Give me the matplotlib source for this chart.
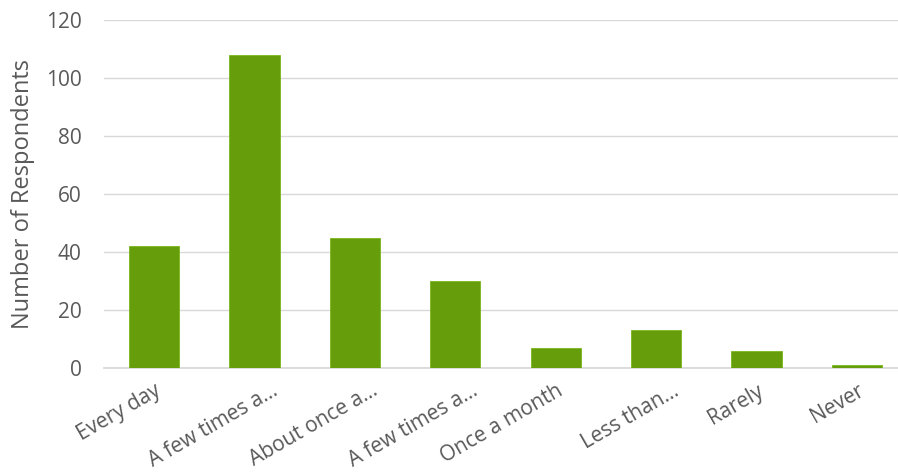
import matplotlib.pyplot as plt
import matplotlib.transforms as mtransforms

plt.rcParams['font.family'] = ['Open Sans', 'DejaVu Sans']

# how often respondents do it
categories = ['Every day', 'A few times a…', 'About once a…', 'A few times a…',
              'Once a month', 'Less than…', 'Rarely', 'Never']
respondents = [42, 108, 45, 30, 7, 13, 6, 1]
y_ticks = [0, 20, 40, 60, 80, 100, 120]

bar_color = '#669E0B'
text_color = '#595959'
grid_color = '#D9D9D9'

fig = plt.figure(figsize=(8.98, 4.72), dpi=100)
ax = fig.add_axes([104 / 898, (472 - 368) / 472, 794 / 898, 348 / 472])

x = range(len(categories))
ax.bar(x, respondents, width=0.5, color=bar_color, edgecolor='#7AB51D',
       linewidth=0.6, zorder=3)

ax.set_ylim(0, 120)
ax.set_yticks(y_ticks)
ax.set_xlim(-0.5, 7.41)
ax.set_xticks(list(x))
ax.set_xticklabels(categories, rotation=30, ha='right', rotation_mode='anchor',
                   fontsize=15, color=text_color)
ax.tick_params(axis='y', labelsize=15, labelcolor=text_color, length=0, pad=16)
ax.tick_params(axis='x', length=0, pad=9)

# truncated labels sit a little further right, like Excel lays them out
for lbl in ax.get_xticklabels():
    if lbl.get_text().endswith('…'):
        shift = mtransforms.ScaledTranslation(16 / 100, 0, fig.dpi_scale_trans)
        lbl.set_transform(lbl.get_transform() + shift)

ax.grid(axis='y', color=grid_color, linewidth=1, zorder=0)
for side in ['top', 'right', 'left']:
    ax.spines[side].set_visible(False)
ax.spines['bottom'].set_color(grid_color)
ax.spines['bottom'].set_linewidth(1.3)

ax.set_ylabel('Number of Respondents', fontsize=17, color=text_color, labelpad=8)

fig.savefig('out.png', dpi=100)
